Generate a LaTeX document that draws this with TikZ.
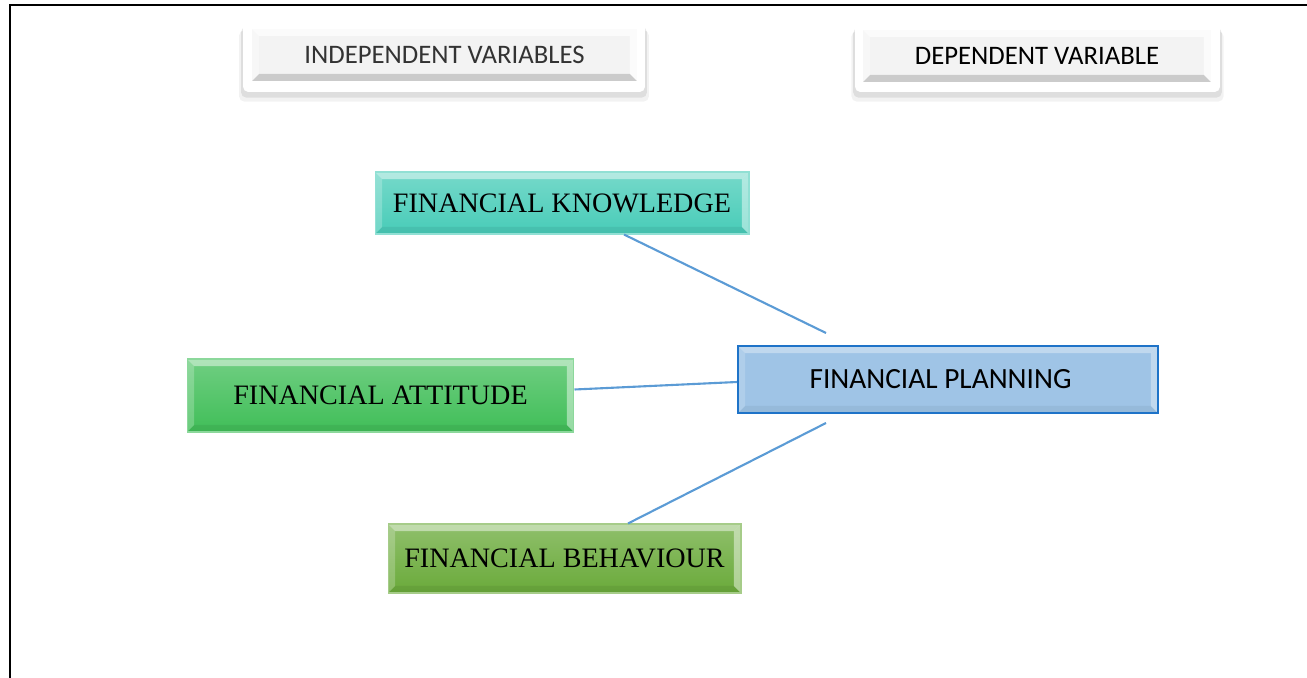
\documentclass[tikz,border=0pt]{standalone}
\usepackage{fontspec}
\setmainfont{Liberation Serif}
\newfontfamily\calibri{Carlito}
\usepackage{tikz}
\usetikzlibrary{positioning,shadows}

\definecolor{knowcol}{RGB}{72,204,184}
\definecolor{attcol}{RGB}{64,190,88}
\definecolor{behcol}{RGB}{106,170,58}
\definecolor{planfill}{RGB}{159,196,230}
\definecolor{plandraw}{RGB}{30,115,200}
\definecolor{linkcol}{RGB}{91,155,213}
\definecolor{headfill}{RGB}{243,243,243}

\begin{document}
\begin{tikzpicture}[
    x=0.02cm, y=-0.02cm,
    bevel/.style n args={2}{path picture={
        \coordinate (bvA) at (path picture bounding box.north west);
        \coordinate (bvB) at (path picture bounding box.north east);
        \coordinate (bvC) at (path picture bounding box.south east);
        \coordinate (bvD) at (path picture bounding box.south west);
        \fill[white, opacity=#1] (bvA) -- (bvB) -- ([xshift=-0.14cm,yshift=-0.14cm]bvB) -- ([xshift=0.14cm,yshift=-0.14cm]bvA) -- cycle;
        \fill[white, opacity=0.5*#1] (bvA) -- (bvD) -- ([xshift=0.14cm,yshift=0.14cm]bvD) -- ([xshift=0.14cm,yshift=-0.14cm]bvA) -- cycle;
        \fill[white, opacity=#1] (bvB) -- (bvC) -- ([xshift=-0.14cm,yshift=0.14cm]bvC) -- ([xshift=-0.14cm,yshift=-0.14cm]bvB) -- cycle;
        \fill[black, opacity=#2] (bvD) -- (bvC) -- ([xshift=-0.14cm,yshift=0.14cm]bvC) -- ([xshift=0.14cm,yshift=0.14cm]bvD) -- cycle;
    }},
    varbox/.style={rectangle, draw=#1!60!white, line width=0.6pt, top color=#1!75!white, bottom color=#1,
        minimum height=1.3cm, inner sep=0pt, font=\fontsize{16}{19}\selectfont, bevel={0.45}{0.06}},
    headback/.style={rectangle, rounded corners=3pt, fill=white, minimum width=8.04cm, minimum height=1.4cm,
        drop shadow={opacity=0.18, shadow xshift=0pt, shadow yshift=-3pt, shadow scale=1.01},
        drop shadow={opacity=0.10, shadow xshift=0pt, shadow yshift=-5pt, shadow scale=1.02}},
    headbox/.style={rectangle, fill=headfill, minimum height=1.04cm, inner sep=0pt,
        font=\calibri\fontsize{15.2}{18}\selectfont, bevel={0.7}{0.16}},
    link/.style={draw=linkcol, line width=1.2pt}
]
\useasboundingbox (0,0) rectangle (1307,678);

% Frame
\draw[line width=1.5pt] (10,678) -- (10,5) -- (1307,5);

% Headers
\node[headback] (indepback) at (444,57) {};
\node[headbox, minimum width=7.7cm, text=black!80] (indep) at (444.5,55) {INDEPENDENT VARIABLES};
\node[headback, minimum width=7.3cm, minimum height=1.38cm] (depback) at (1037.5,57.5) {};
\node[headbox, minimum width=6.96cm] (dep) at (1037,56) {DEPENDENT VARIABLE};

% Nodes
\node[varbox=knowcol, minimum width=7.48cm, minimum height=1.24cm] (know) at (562,203) {FINANCIAL KNOWLEDGE};
\node[varbox=attcol, minimum width=7.74cm, minimum height=1.46cm] (att) at (380.5,395.5) {FINANCIAL ATTITUDE};
\node[varbox=behcol, minimum width=7.06cm, minimum height=1.38cm] (beh) at (564.5,558.5) {FINANCIAL BEHAVIOUR};
\node[rectangle, draw=plandraw, line width=1.2pt, fill=planfill, minimum width=8.4cm, minimum height=1.34cm,
    inner sep=0pt, font=\calibri\fontsize{16.7}{20}\selectfont, bevel={0.35}{0.05}] (plan) at (948,379.5)
    {\hspace*{-0.3cm}FINANCIAL PLANNING};

% Lines
\coordinate (knowend) at (826,333);
\coordinate (behend) at (826,423);
\draw[link] (know.south -| 624,0) -- (knowend);
\draw[link] ([yshift=0.12cm]att.east) -- ([yshift=-0.05cm]plan.west);
\draw[link] (beh.north -| 628,0) -- (behend);

\end{tikzpicture}
\end{document}
